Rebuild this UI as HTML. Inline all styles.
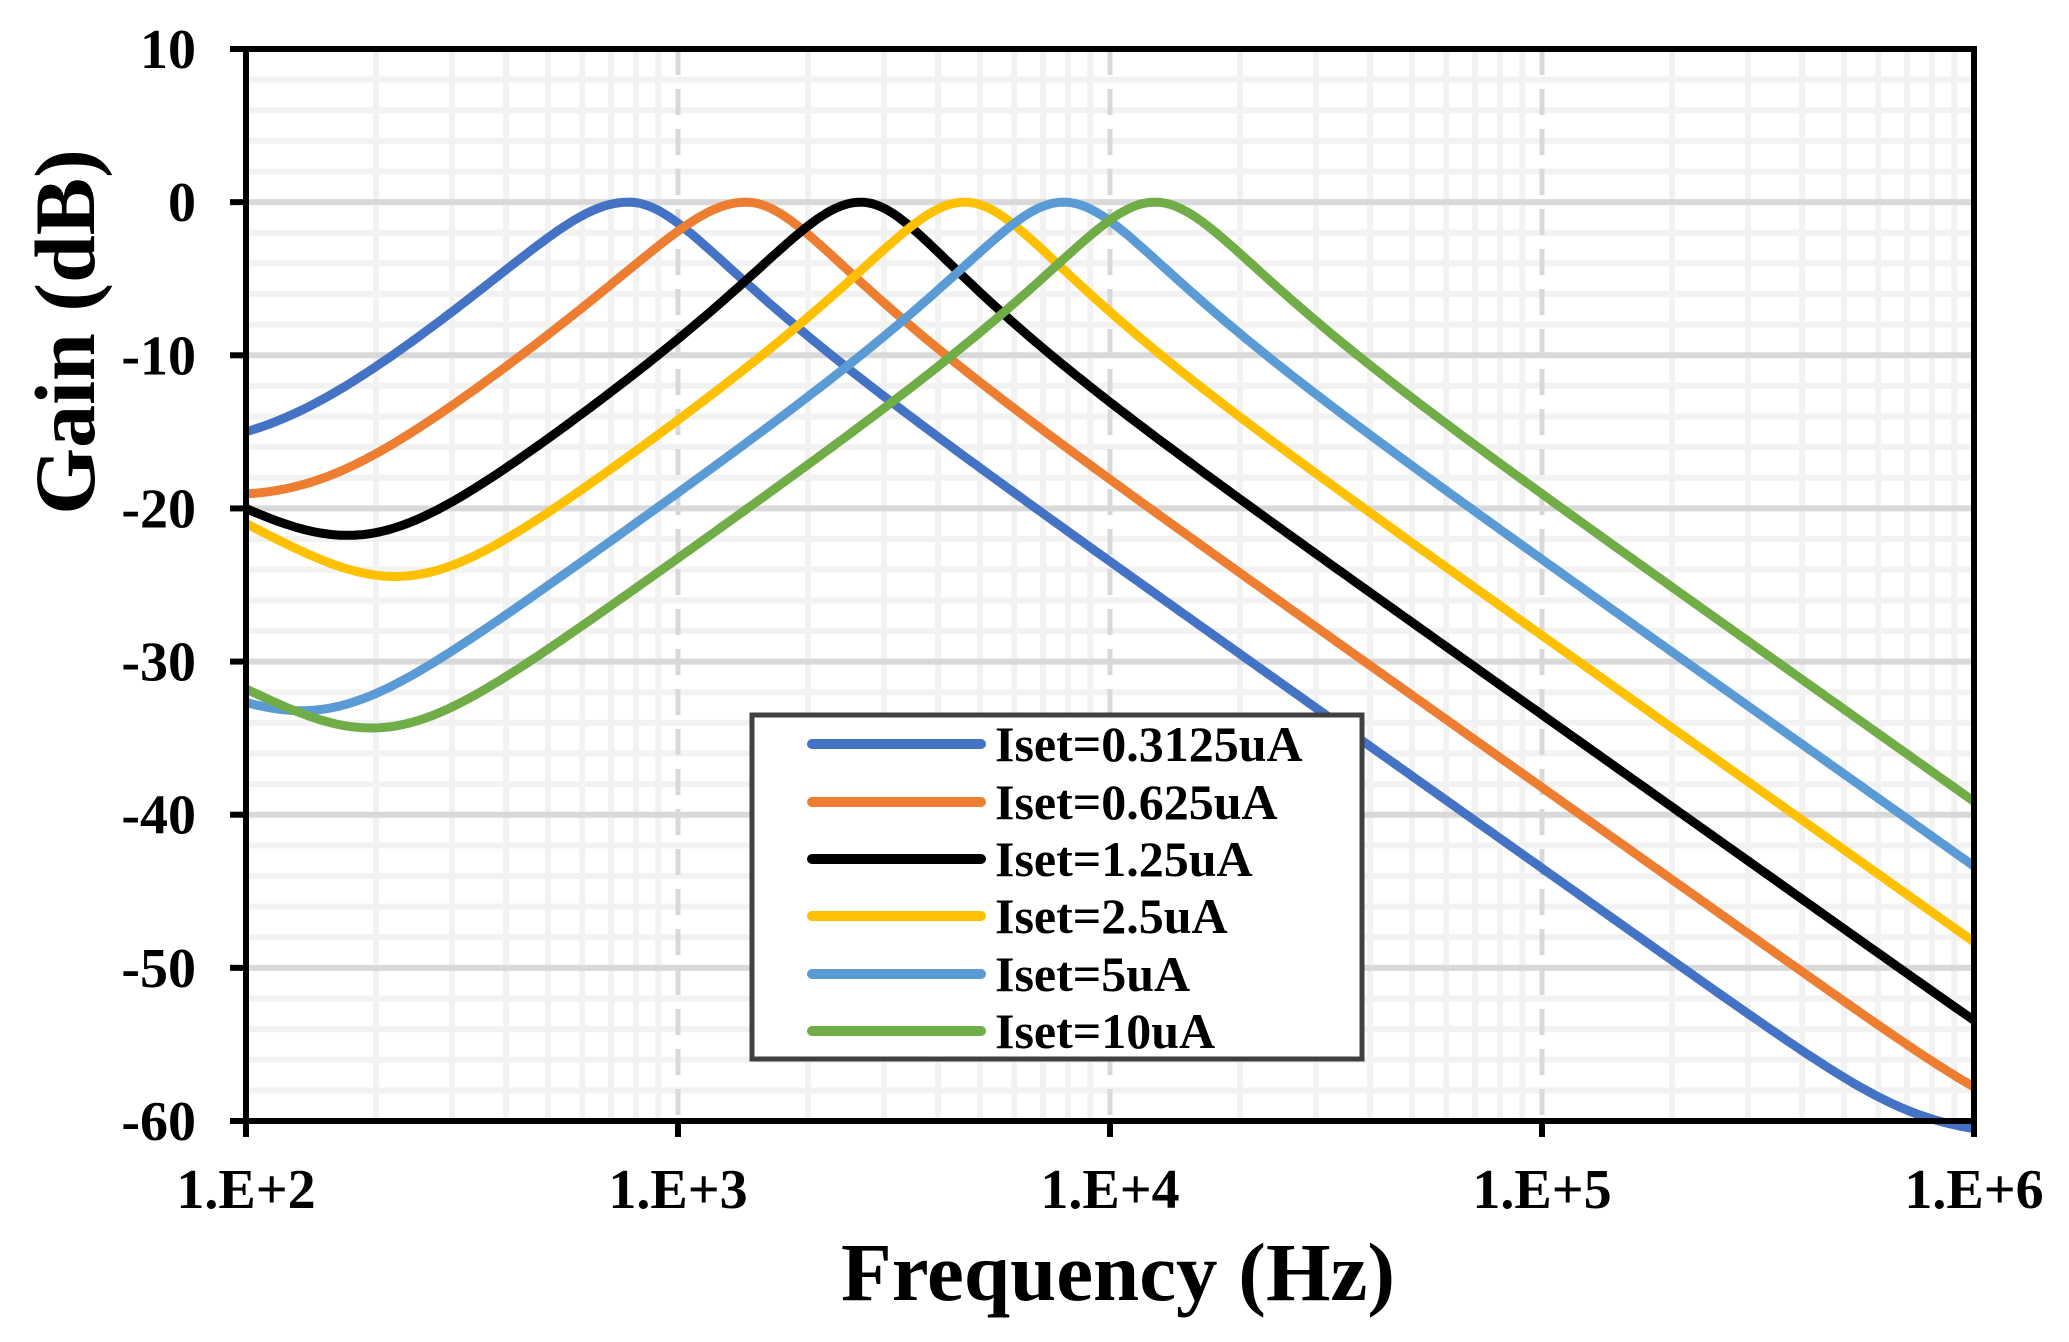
<!DOCTYPE html>
<html><head><meta charset="utf-8"><style>
html,body{margin:0;padding:0;background:#fff;}
svg{display:block;}
text{font-family:"Liberation Serif",serif;font-weight:bold;fill:#000;}
</style></head><body>
<svg id="s" width="2069" height="1342" viewBox="0 0 2069 1342" xmlns="http://www.w3.org/2000/svg">
<g id="grid"></g>
<g id="curves" fill="none" stroke-width="9" stroke-linejoin="round"></g>
<g id="axes"></g>
<g id="labels" font-size="56"></g>
<text x="1118" y="1300" font-size="83" text-anchor="middle">Frequency (Hz)</text>
<text transform="translate(94,332) rotate(-90)" font-size="86" text-anchor="middle">Gain (dB)</text>
<rect x="752" y="715" width="610" height="344" fill="#fff" stroke="#404040" stroke-width="5"/>
<g id="legend" font-size="50"></g>
</svg>
<script>
var L=246,R=1974,T=49,B=1121;
var dec=(R-L)/4;
function X(f){return L+(Math.log10(f)-2)*dec;}
function Y(d){return T+(10-d)*(B-T)/70;}
var ns="http://www.w3.org/2000/svg";
function el(p,n,a,t){var e=document.createElementNS(ns,n);for(var k in a)e.setAttribute(k,a[k]);if(t!==undefined)e.textContent=t;document.getElementById(p).appendChild(e);return e;}
for(var d=8;d>-60;d-=2){if(d%10==0)continue;el("grid","line",{x1:L,x2:R,y1:Y(d),y2:Y(d),stroke:"#f2f2f2","stroke-width":6});}
for(var e=2;e<6;e++)for(var m=2;m<10;m++){var x=X(m*Math.pow(10,e));el("grid","line",{x1:x,x2:x,y1:T,y2:B,stroke:"#f2f2f2","stroke-width":6});}
for(var d=0;d>-60;d-=10)el("grid","line",{x1:L,x2:R,y1:Y(d),y2:Y(d),stroke:"#d9d9d9","stroke-width":6});
for(var e=3;e<6;e++){var x=X(Math.pow(10,e));el("grid","line",{x1:x,x2:x,y1:T,y2:B,stroke:"#d9d9d9","stroke-width":5,"stroke-dasharray":"26 14"});}
// color, f0, leak a, leak fc, Q low side, Q high side
var cs=[
 ["#4472c4",769,0.159,100,0.95,1.15],
 ["#ed7d31",1436,0.123,100,1.0,1.17],
 ["#000000",2650,0.211,50,1.15,1.25],
 ["#ffc000",4610,0.195,50,1.15,1.2],
 ["#5b9bd5",7810,0.0457,50,1.15,1.15],
 ["#70ad47",12700,0.0555,50,1.15,1.15]];
cs.forEach(function(c){
 var pts=[];
 for(var i=0;i<=400;i++){
  var f=Math.pow(10,2+4*i/400),w=f/c[1];
  var Q=w<1?c[4]:c[5];
  var b2=1/(1+Q*Q*Math.pow(w-1/w,2));
  var u=f/c[3],l2=c[2]*c[2]/(1+u*u);
  var g=10*Math.log10(b2+l2);
  var F=-61,k=2;g=F+k*Math.log(1+Math.exp((g-F)/k));
  pts.push(X(f).toFixed(1)+","+Y(g).toFixed(1));
 }
 el("curves","polyline",{points:pts.join(" "),stroke:c[0]});
});
el("axes","rect",{x:L,y:T,width:R-L,height:B-T,fill:"none",stroke:"#000","stroke-width":6});
for(var d=10;d>=-60;d-=10){el("axes","line",{x1:L-16,x2:L,y1:Y(d),y2:Y(d),stroke:"#000","stroke-width":6});
 el("labels","text",{x:196,y:Y(d)+19,"text-anchor":"end"},d);}
for(var e=2;e<=6;e++){var x=X(Math.pow(10,e));el("axes","line",{x1:x,x2:x,y1:B,y2:B+16,stroke:"#000","stroke-width":6});
 el("labels","text",{x:x,y:1208,"text-anchor":"middle"},"1.E+"+e);}
var names=["Iset=0.3125uA","Iset=0.625uA","Iset=1.25uA","Iset=2.5uA","Iset=5uA","Iset=10uA"];
var ys=[744,802,859,916,974,1031];
names.forEach(function(n,i){
 el("legend","line",{x1:812,x2:981,y1:ys[i],y2:ys[i],stroke:cs[i][0],"stroke-width":10,"stroke-linecap":"round"});
 el("legend","text",{x:995,y:ys[i]+17},n);
});
</script>
</body></html>
